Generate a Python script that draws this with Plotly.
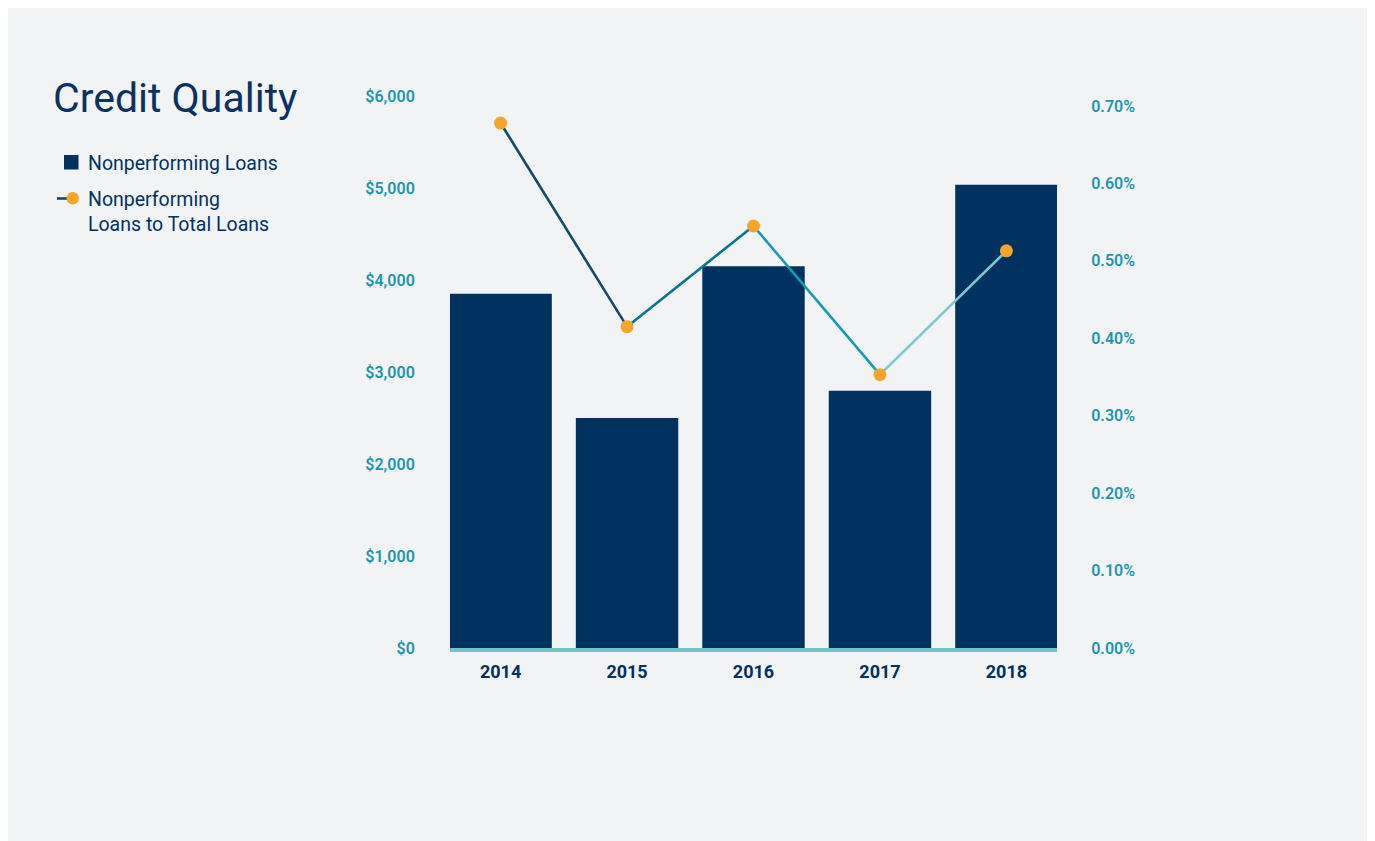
import plotly.graph_objects as go

years = ["2014", "2015", "2016", "2017", "2018"]
npl_values = [3850, 2500, 4150, 2795, 5035]          # $ (millions)
npl_ratio = [0.678, 0.415, 0.545, 0.353, 0.513]       # percent
left_ticks = [0, 1000, 2000, 3000, 4000, 5000, 6000]
left_labels = ["$0", "$1,000", "$2,000", "$3,000", "$4,000", "$5,000", "$6,000"]
right_ticks = [0.0, 0.1, 0.2, 0.3, 0.4, 0.5, 0.6, 0.7]
right_labels = ["0.00%", "0.10%", "0.20%", "0.30%", "0.40%", "0.50%", "0.60%", "0.70%"]
segment_colors = ["#134a6a", "#08778e", "#149db2", "#7ccbd0"]

NAVY = "#00325f"
TEAL = "#1998ad"
ORANGE = "#f6a52a"
BG = "#f2f3f5"
FONT = "Roboto"

W, H = 1375, 841
OFF = 8  # page offset of the figure in the screenshot
L, R, T, B = 450 - OFF, 1057 - OFF, 96 - OFF, 648 - OFF


def X(px):
    return (px - OFF - L) / (R - L)


def Y(py):
    return (B - (py - OFF)) / (B - T)


fig = go.Figure()

fig.add_trace(go.Bar(
    x=years, y=npl_values, marker=dict(color=NAVY, line=dict(width=0)),
    name="Nonperforming Loans", yaxis="y", showlegend=False,
    hovertemplate="%{x}: $%{y:,}<extra></extra>",
))

for i in range(len(years) - 1):
    fig.add_trace(go.Scatter(
        x=years[i:i + 2], y=npl_ratio[i:i + 2], mode="lines",
        line=dict(color=segment_colors[i], width=2.6),
        yaxis="y2", showlegend=False, hoverinfo="skip",
    ))

fig.add_trace(go.Scatter(
    x=years, y=npl_ratio, mode="markers",
    marker=dict(color=ORANGE, size=13, line=dict(width=0)),
    name="Nonperforming Loans to Total Loans", yaxis="y2", showlegend=False,
    hovertemplate="%{x}: %{y:.2f}%<extra></extra>",
))

r2_top = 0.7 * (648 - 96) / (648 - 106)

fig.update_layout(
    width=W, height=H,
    margin=dict(l=L, r=W - R, t=T, b=H - B, pad=0),
    paper_bgcolor=BG,
    plot_bgcolor=BG,
    bargap=0.19,
    font=dict(family=FONT, color=NAVY),
    title=dict(
        text="Credit Quality", x=(53 - OFF) / W, xref="container", xanchor="left",
        y=1 - (98 - OFF) / H, yref="container", yanchor="middle",
        font=dict(family=FONT, size=41, color="#0a3161"),
    ),
    xaxis=dict(
        type="category", range=[-0.4, 4.4], showgrid=False, zeroline=False,
        showline=True, linecolor="#6ec6c9", linewidth=4,
        ticks="outside", ticklen=4, tickcolor="rgba(0,0,0,0)",
        tickfont=dict(family=FONT, size=18, color=NAVY, weight=700),
    ),
    yaxis=dict(
        range=[0, 6000], tickmode="array", tickvals=left_ticks, ticktext=left_labels,
        showgrid=False, zeroline=False, showline=False,
        ticks="outside", ticklen=31, tickcolor="rgba(0,0,0,0)",
        tickfont=dict(family=FONT, size=16, color=TEAL, weight=600),
    ),
    yaxis2=dict(
        overlaying="y", side="right", range=[0, r2_top],
        tickmode="array", tickvals=right_ticks, ticktext=right_labels,
        showgrid=False, zeroline=False, showline=False,
        ticks="outside", ticklen=30, tickcolor="rgba(0,0,0,0)",
        tickfont=dict(family=FONT, size=16, color=TEAL, weight=600),
    ),
    showlegend=False,
)

# custom legend
fig.add_shape(type="rect", xref="paper", yref="paper",
              x0=X(64), x1=X(78.5), y0=Y(169.5), y1=Y(155),
              fillcolor=NAVY, line=dict(width=0))
fig.add_shape(type="line", xref="paper", yref="paper",
              x0=X(57), x1=X(70), y0=Y(198.5), y1=Y(198.5),
              line=dict(color="#134a6a", width=2.6))
fig.add_shape(type="circle", xref="paper", yref="paper",
              x0=X(66.5), x1=X(79), y0=Y(204.5), y1=Y(192),
              fillcolor=ORANGE, line=dict(width=0))

fig.add_annotation(text="Nonperforming Loans", xref="paper", yref="paper",
                   x=X(86), y=Y(163), xanchor="left", yanchor="middle",
                   showarrow=False, font=dict(family=FONT, size=19.5, color=NAVY))
fig.add_annotation(text="Nonperforming<br>Loans to Total Loans", xref="paper", yref="paper",
                   x=X(86), y=Y(212), xanchor="left", yanchor="middle", align="left",
                   showarrow=False, font=dict(family=FONT, size=19.5, color=NAVY))

fig.write_html("out.html")
